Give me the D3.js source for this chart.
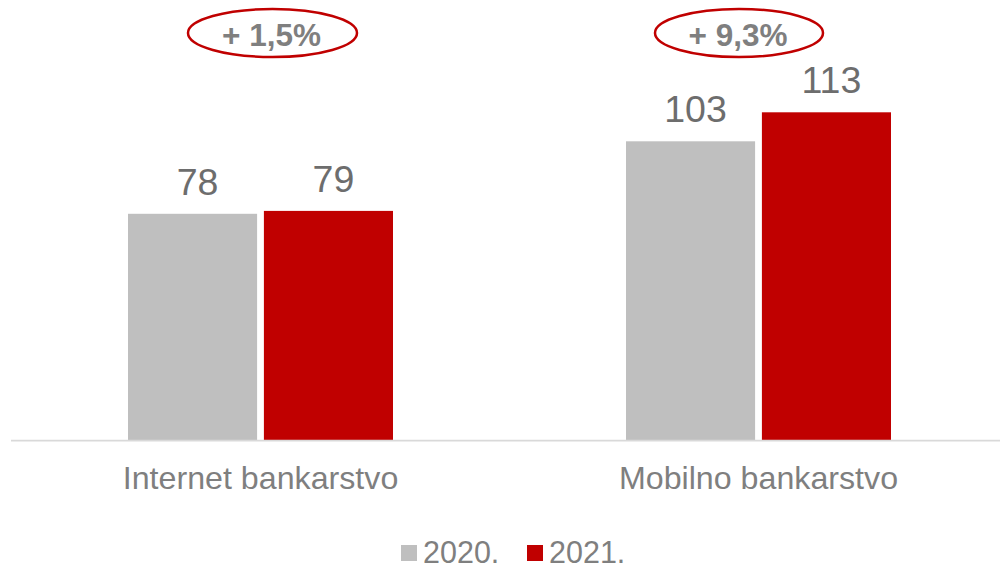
<!DOCTYPE html>
<html>
<head>
<meta charset="utf-8">
<script src="https://cdn.jsdelivr.net/npm/d3@7"></script>
<style>
  html, body { margin: 0; padding: 0; background: #ffffff; }
  svg { display: block; font-family: Arial, "Liberation Sans", sans-serif; }
</style>
</head>
<body>
<svg id="chart" width="1000" height="569"></svg>
<script>
// Number of users by channel, 2020 vs 2021
const categories = ["Internet bankarstvo", "Mobilno bankarstvo"];
const years = ["2020.", "2021."];
const values2020 = [78, 103];
const values2021 = [79, 113];
const growthLabels = ["+ 1,5%", "+ 9,3%"];

const colors = { "2020.": "#bfbfbf", "2021.": "#c00000" };

const svg = d3.select("#chart");
const baseY = 440;

const x0 = d3.scaleBand().domain(categories).range([11.5, 1007.5]);
const groupWidth = 265;
const x1 = d3.scaleBand().domain(years).range([0, groupWidth]).paddingInner(0.05);
const y = d3.scaleLinear().domain([0, 140]).range([baseY, baseY - 140 * 2.9]);

const rows = categories.map((c, i) => ({
  category: c,
  values: [
    { year: years[0], value: values2020[i] },
    { year: years[1], value: values2021[i] }
  ]
}));

const groupLeft = c => x0(c) + x0.bandwidth() / 2 - groupWidth / 2;

const groups = svg.selectAll("g.group")
  .data(rows)
  .join("g")
  .attr("class", "group")
  .attr("transform", d => `translate(${groupLeft(d.category)},0)`);

groups.selectAll("rect")
  .data(d => d.values)
  .join("rect")
  .attr("x", d => x1(d.year))
  .attr("y", d => y(d.value))
  .attr("width", x1.bandwidth())
  .attr("height", d => y(0) - y(d.value))
  .attr("fill", d => colors[d.year]);

// Value labels sit slightly right of the bar centre
groups.selectAll("text.value")
  .data(d => d.values)
  .join("text")
  .attr("class", "value")
  .attr("x", d => x1(d.year) + x1.bandwidth() / 2 + 5)
  .attr("y", d => y(d.value) - 19)
  .attr("text-anchor", "middle")
  .attr("font-size", 37.5)
  .attr("fill", "#6d6d6d")
  .text(d => d.value);

// Baseline axis
const xAxis = svg.append("g")
  .attr("transform", `translate(0,${baseY + 0.5})`)
  .call(d3.axisBottom(x0).tickSize(0).tickPadding(0));
xAxis.select(".domain")
  .attr("d", "M11,0H1000")
  .attr("stroke", "#d9d9d9")
  .attr("stroke-width", 1.75);
xAxis.selectAll(".tick text")
  .attr("y", 48.5)
  .attr("dy", null)
  .attr("font-size", 32.2)
  .attr("font-family", "Arial, 'Liberation Sans', sans-serif")
  .attr("fill", "#7f7f7f");

// Growth callouts
const callouts = [
  { cx: groupLeft(categories[0]) + groupWidth / 2 + 12, rx: 84.5 },
  { cx: groupLeft(categories[1]) + groupWidth / 2 - 19.5, rx: 84 }
];
const calloutG = svg.selectAll("g.callout")
  .data(growthLabels)
  .join("g")
  .attr("class", "callout");
calloutG.append("ellipse")
  .attr("cx", (d, i) => callouts[i].cx)
  .attr("cy", 33)
  .attr("rx", (d, i) => callouts[i].rx)
  .attr("ry", 24)
  .attr("fill", "none")
  .attr("stroke", "#c00000")
  .attr("stroke-width", 2.5);
calloutG.append("text")
  .attr("x", (d, i) => callouts[i].cx - 1)
  .attr("y", 45.5)
  .attr("text-anchor", "middle")
  .attr("font-size", 31.5)
  .attr("font-weight", "bold")
  .attr("fill", "#7f7f7f")
  .text(d => d);

// Legend
const legendItems = [
  { year: years[0], sx: 401, tx: 423 },
  { year: years[1], sx: 527, tx: 549 }
];
const legend = svg.selectAll("g.legend")
  .data(legendItems)
  .join("g")
  .attr("class", "legend");
legend.append("rect")
  .attr("x", d => d.sx)
  .attr("y", 545)
  .attr("width", 16)
  .attr("height", 16)
  .attr("fill", d => colors[d.year]);
legend.append("text")
  .attr("x", d => d.tx)
  .attr("y", 563)
  .attr("font-size", 30.5)
  .attr("fill", "#7f7f7f")
  .text(d => d.year);
</script>
</body>
</html>
